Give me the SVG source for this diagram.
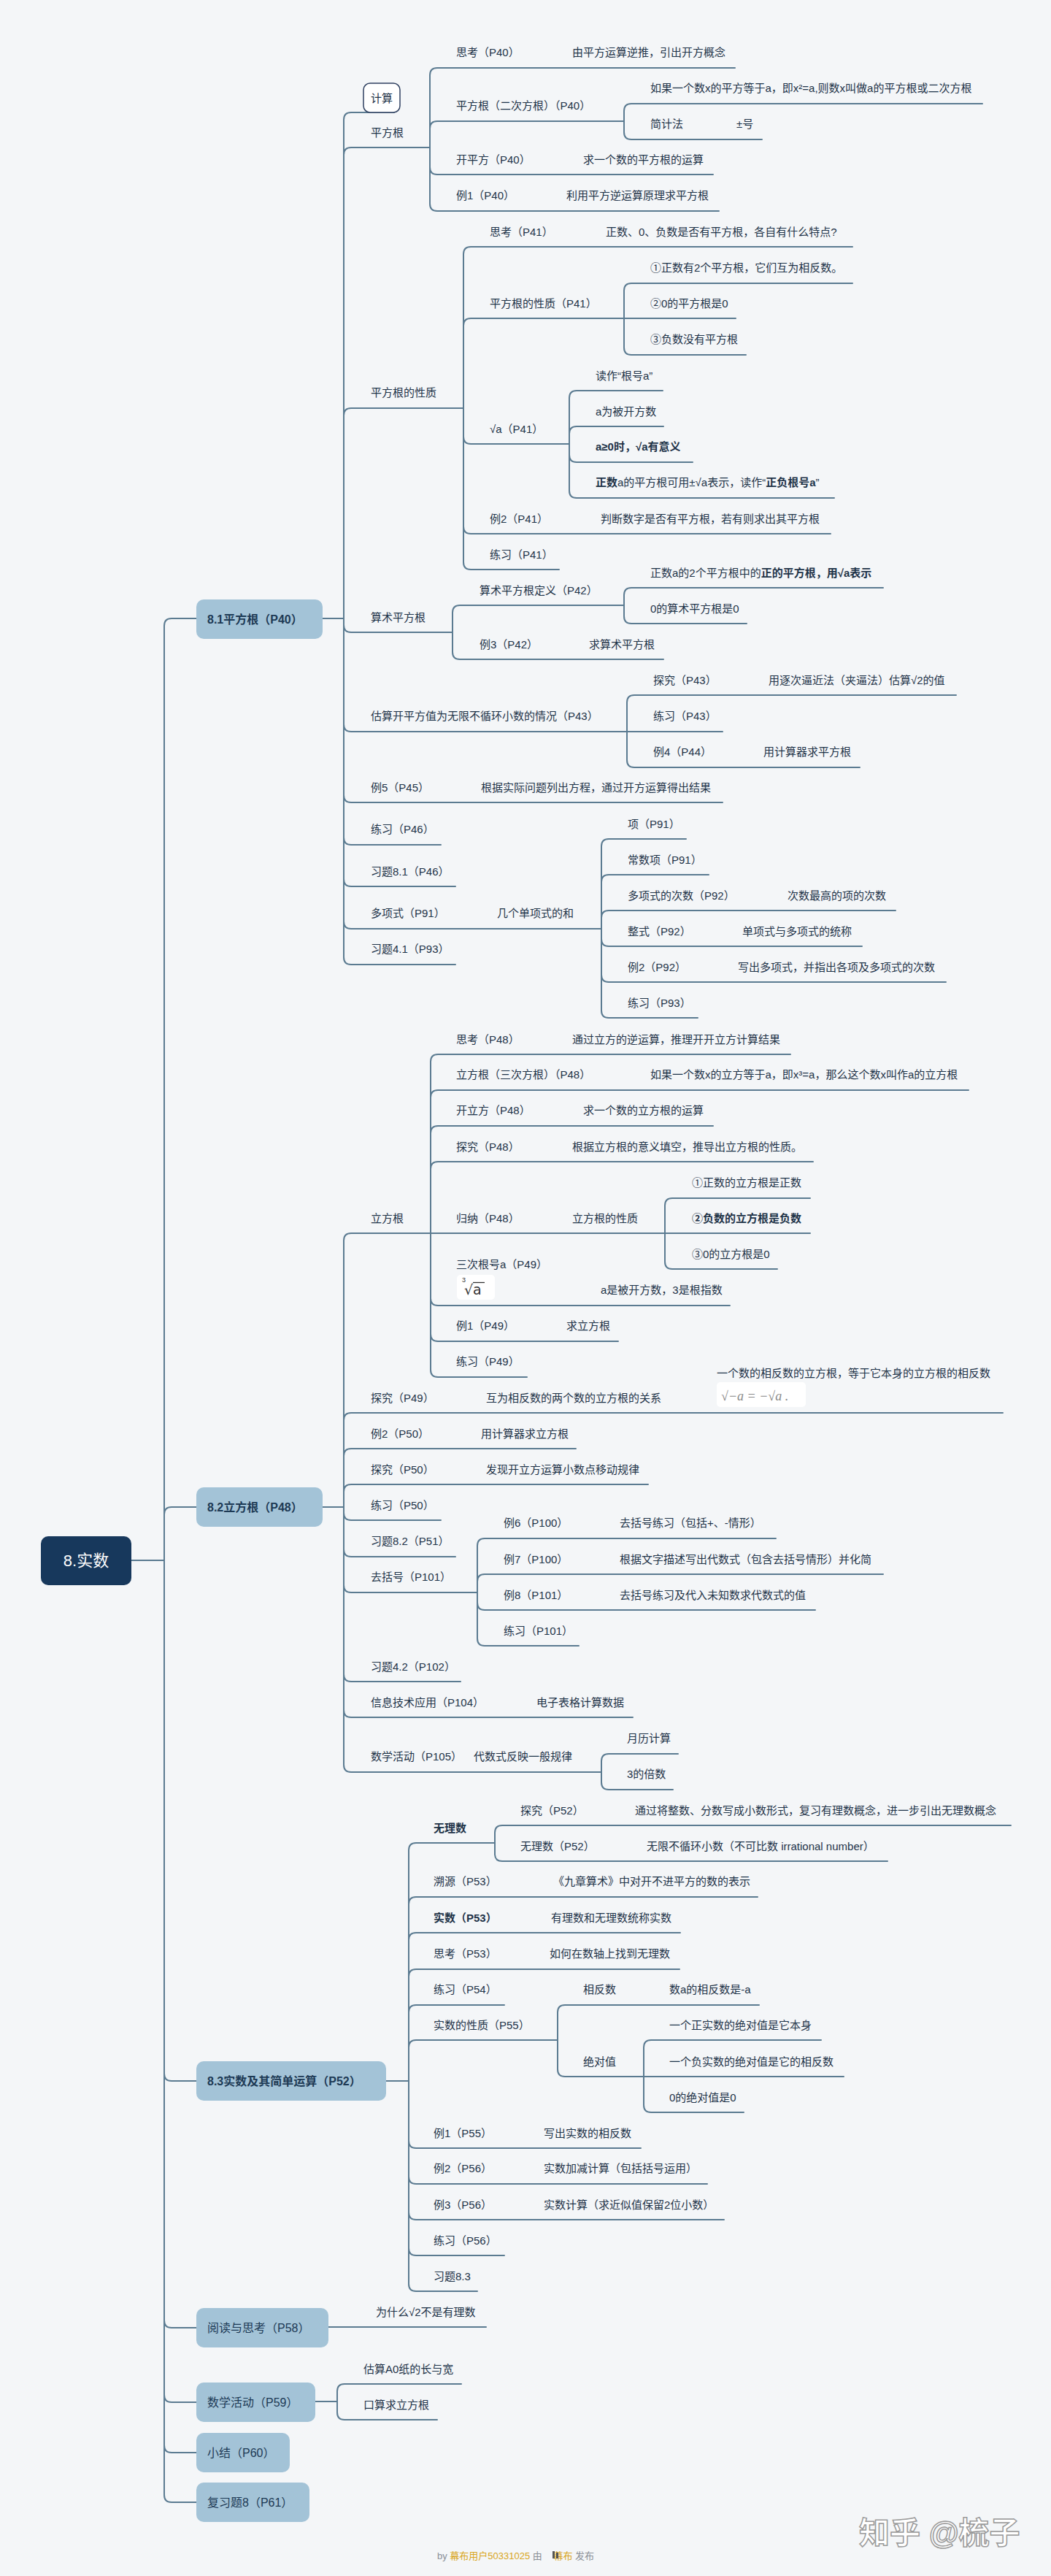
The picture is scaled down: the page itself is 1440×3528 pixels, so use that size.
<svg xmlns="http://www.w3.org/2000/svg" width="1440" height="3528" viewBox="0 0 1440 3528">
<defs>
<style>
.t{font-family:"Liberation Sans","Noto Sans CJK SC",sans-serif;font-size:15px;fill:#1e3348}
.b{font-weight:bold}
.ln{fill:none;stroke:#5b7b91;stroke-width:2;stroke-linecap:round}
.l1{fill:#a3c3d7}
.l1t{font-family:"Liberation Sans","Noto Sans CJK SC",sans-serif;font-size:16px;fill:#1d3a55}
.root{fill:#17385c}
.rt{font-family:"Liberation Sans","Noto Sans CJK SC",sans-serif;font-size:22px;fill:#ffffff}
.img{fill:#ffffff}
.ft{font-family:"Liberation Sans","Noto Sans CJK SC",sans-serif;font-size:13px;fill:#8a8f96}
.gold{fill:#d9a520}
</style>
</defs>
<rect x="0" y="0" width="1440" height="3528" fill="#f4f6f8"/>

<g id="connectors">
<path class="ln" d="M180 2137H225"/>
<path class="ln" d="M225 2137V857Q225 847 235 847H269"/>
<path class="ln" d="M225 2137V2074Q225 2064 235 2064H269"/>
<path class="ln" d="M225 2137V2840Q225 2850 235 2850H269"/>
<path class="ln" d="M225 2137V3178Q225 3188 235 3188H269"/>
<path class="ln" d="M225 2137V3280Q225 3290 235 3290H269"/>
<path class="ln" d="M225 2137V3349Q225 3359 235 3359H269"/>
<path class="ln" d="M225 2137V3417Q225 3427 235 3427H269"/>

<path class="ln" d="M442 847H471"/>
<path class="ln" d="M471 847V164Q471 154 481 154H540"/>
<path class="ln" d="M471 847V212Q471 202 481 202H589"/>
<path class="ln" d="M471 847V569Q471 559 481 559H635"/>
<path class="ln" d="M471 847V856Q471 866 481 866H620"/>
<path class="ln" d="M471 847V992Q471 1002 481 1002H859"/>
<path class="ln" d="M471 847V1089Q471 1099 481 1099H990"/>
<path class="ln" d="M471 847V1147Q471 1157 481 1157H604"/>
<path class="ln" d="M471 847V1204Q471 1214 481 1214H624"/>
<path class="ln" d="M471 847V1262Q471 1272 481 1272H824"/>
<path class="ln" d="M471 847V1311Q471 1321 481 1321H624"/>

<path class="ln" d="M589 202V103Q589 93 599 93H1007"/>
<path class="ln" d="M589 202V176Q589 166 599 166H855"/>
<path class="ln" d="M589 202V229Q589 239 599 239H977"/>
<path class="ln" d="M589 202V279Q589 289 599 289H985"/>
<path class="ln" d="M855 166V152Q855 142 865 142H1346"/>
<path class="ln" d="M855 166V181Q855 191 865 191H1044"/>

<path class="ln" d="M635 559V348Q635 338 645 338H1168"/>
<path class="ln" d="M635 559V446Q635 436 645 436H855"/>
<path class="ln" d="M635 559V598Q635 608 645 608H780"/>
<path class="ln" d="M635 559V721Q635 731 645 731H1138"/>
<path class="ln" d="M635 559V770Q635 780 645 780H766"/>
<path class="ln" d="M855 436V398Q855 388 865 388H1168"/>
<path class="ln" d="M855 436H1008"/>
<path class="ln" d="M855 436V476Q855 486 865 486H1022"/>
<path class="ln" d="M780 608V545Q780 535 790 535H908"/>
<path class="ln" d="M780 608V594Q780 584 790 584H909"/>
<path class="ln" d="M780 608V623Q780 633 790 633H949"/>
<path class="ln" d="M780 608V672Q780 682 790 682H1143"/>

<path class="ln" d="M620 866V839Q620 829 630 829H855"/>
<path class="ln" d="M620 866V893Q620 903 630 903H909"/>
<path class="ln" d="M855 829V815Q855 805 865 805H1210"/>
<path class="ln" d="M855 829V844Q855 854 865 854H1023"/>

<path class="ln" d="M859 1002V962Q859 952 869 952H1310"/>
<path class="ln" d="M859 1002H990"/>
<path class="ln" d="M859 1002V1041Q859 1051 869 1051H1178"/>

<path class="ln" d="M824 1272V1159Q824 1149 834 1149H940"/>
<path class="ln" d="M824 1272V1208Q824 1198 834 1198H971"/>
<path class="ln" d="M824 1272V1257Q824 1247 834 1247H1227"/>
<path class="ln" d="M824 1272V1286Q824 1296 834 1296H1181"/>
<path class="ln" d="M824 1272V1335Q824 1345 834 1345H1296"/>
<path class="ln" d="M824 1272V1384Q824 1394 834 1394H956"/>

<path class="ln" d="M442 2064H471"/>
<path class="ln" d="M471 2064V1699Q471 1689 481 1689H590"/>
<path class="ln" d="M471 2064V1945Q471 1935 481 1935H1374"/>
<path class="ln" d="M471 2064V1994Q471 1984 481 1984H789"/>
<path class="ln" d="M471 2064V2043Q471 2033 481 2033H888"/>
<path class="ln" d="M471 2064V2072Q471 2082 481 2082H604"/>
<path class="ln" d="M471 2064V2122Q471 2132 481 2132H624"/>
<path class="ln" d="M471 2064V2171Q471 2181 481 2181H654"/>
<path class="ln" d="M471 2064V2293Q471 2303 481 2303H631"/>
<path class="ln" d="M471 2064V2342Q471 2352 481 2352H867"/>
<path class="ln" d="M471 2064V2417Q471 2427 481 2427H824"/>

<path class="ln" d="M590 1689V1454Q590 1444 600 1444H1083"/>
<path class="ln" d="M590 1689V1503Q590 1493 600 1493H1327"/>
<path class="ln" d="M590 1689V1552Q590 1542 600 1542H977"/>
<path class="ln" d="M590 1689V1601Q590 1591 600 1591H1114"/>
<path class="ln" d="M590 1689H911"/>
<path class="ln" d="M590 1689V1778Q590 1788 600 1788H1000"/>
<path class="ln" d="M590 1689V1827Q590 1837 600 1837H847"/>
<path class="ln" d="M590 1689V1876Q590 1886 600 1886H722"/>
<path class="ln" d="M911 1689V1651Q911 1641 921 1641H1110"/>
<path class="ln" d="M911 1689H1110"/>
<path class="ln" d="M911 1689V1728Q911 1738 921 1738H1065"/>

<path class="ln" d="M654 2181V2117Q654 2107 664 2107H1063"/>
<path class="ln" d="M654 2181V2166Q654 2156 664 2156H1210"/>
<path class="ln" d="M654 2181V2195Q654 2205 664 2205H1117"/>
<path class="ln" d="M654 2181V2244Q654 2254 664 2254H793"/>
<path class="ln" d="M824 2427V2412Q824 2402 834 2402H929"/>
<path class="ln" d="M824 2427V2441Q824 2451 834 2451H922"/>

<path class="ln" d="M529 2850H560"/>
<path class="ln" d="M560 2850V2534Q560 2524 570 2524H678"/>
<path class="ln" d="M560 2850V2608Q560 2598 570 2598H1038"/>
<path class="ln" d="M560 2850V2657Q560 2647 570 2647H932"/>
<path class="ln" d="M560 2850V2707Q560 2697 570 2697H931"/>
<path class="ln" d="M560 2850V2756Q560 2746 570 2746H691"/>
<path class="ln" d="M560 2850V2804Q560 2794 570 2794H764"/>
<path class="ln" d="M560 2850V2932Q560 2942 570 2942H878"/>
<path class="ln" d="M560 2850V2981Q560 2991 570 2991H969"/>
<path class="ln" d="M560 2850V3030Q560 3040 570 3040H992"/>
<path class="ln" d="M560 2850V3079Q560 3089 570 3089H691"/>
<path class="ln" d="M560 2850V3128Q560 3138 570 3138H654"/>
<path class="ln" d="M678 2524V2510Q678 2500 688 2500H1385"/>
<path class="ln" d="M678 2524V2539Q678 2549 688 2549H1216"/>
<path class="ln" d="M764 2794V2756Q764 2746 774 2746H1040"/>
<path class="ln" d="M764 2794V2834Q764 2844 774 2844H882"/>
<path class="ln" d="M882 2844V2804Q882 2794 892 2794H1125"/>
<path class="ln" d="M882 2844H1156"/>
<path class="ln" d="M882 2844V2883Q882 2893 892 2893H1019"/>

<path class="ln" d="M450 3187H666"/>
<path class="ln" d="M432 3289H462"/>
<path class="ln" d="M462 3289V3275Q462 3265 472 3265H632"/>
<path class="ln" d="M462 3289V3304Q462 3314 472 3314H599"/>
</g>

<g id="root">
<rect class="root" x="56" y="2104" width="124" height="67" rx="10"/>
<text class="rt" x="118" y="2145" text-anchor="middle">8.实数</text>
</g>

<g id="n81">
<rect class="l1" x="269" y="821" width="173" height="54" rx="10"/>
<text class="l1t b" x="284" y="854">8.1平方根（P40）</text>
</g>
<g id="n82">
<rect class="l1" x="269" y="2037" width="173" height="54" rx="10"/>
<text class="l1t b" x="284" y="2070">8.2立方根（P48）</text>
</g>
<g id="n83">
<rect class="l1" x="269" y="2823" width="260" height="54" rx="10"/>
<text class="l1t b" x="284" y="2856">8.3实数及其简单运算（P52）</text>
</g>
<g id="n-read">
<rect class="l1" x="269" y="3161" width="181" height="54" rx="10"/>
<text class="l1t" x="284" y="3194">阅读与思考（P58）</text>
</g>
<g id="n-act">
<rect class="l1" x="269" y="3263" width="163" height="54" rx="10"/>
<text class="l1t" x="284" y="3296">数学活动（P59）</text>
</g>
<g id="n-sum">
<rect class="l1" x="269" y="3332" width="128" height="54" rx="10"/>
<text class="l1t" x="284" y="3365">小结（P60）</text>
</g>
<g id="n-rev">
<rect class="l1" x="269" y="3400" width="155" height="54" rx="10"/>
<text class="l1t" x="284" y="3433">复习题8（P61）</text>
</g>

<g id="s81">
<g id="calc"><rect x="498" y="114" width="50" height="40" rx="9" fill="#ffffff" stroke="#2f4060" stroke-width="1.5"/><text class="t" x="523" y="139.5" text-anchor="middle">计算</text></g>
<g id="pfg"><text class="t" x="508" y="186.5">平方根</text></g>
<g id="sk40"><text class="t" x="625" y="77">思考（P40）</text><text class="t" x="784" y="77">由平方运算逆推，引出开方概念</text></g>
<g id="pfg2"><text class="t" x="625" y="150">平方根（二次方根）（P40）</text></g>
<g id="def1"><text class="t" x="891" y="126">如果一个数x的平方等于a，即x²=a,则数x叫做a的平方根或二次方根</text></g>
<g id="jjf"><text class="t" x="891" y="175">简计法</text><text class="t" x="1009" y="175">±号</text></g>
<g id="kpf"><text class="t" x="625" y="224">开平方（P40）</text><text class="t" x="799" y="224">求一个数的平方根的运算</text></g>
<g id="l140"><text class="t" x="625" y="273">例1（P40）</text><text class="t" x="776" y="273">利用平方逆运算原理求平方根</text></g>

<g id="pfgxz"><text class="t" x="508" y="543">平方根的性质</text></g>
<g id="sk41"><text class="t" x="671" y="323">思考（P41）</text><text class="t" x="830" y="323">正数、0、负数是否有平方根，各自有什么特点?</text></g>
<g id="xz41"><text class="t" x="671" y="420.5">平方根的性质（P41）</text></g>
<g id="xz1"><text class="t" x="891" y="372">①正数有2个平方根，它们互为相反数。</text></g>
<g id="xz2"><text class="t" x="891" y="420.5">②0的平方根是0</text></g>
<g id="xz3"><text class="t" x="891" y="470">③负数没有平方根</text></g>
<g id="sqa"><text class="t" x="671" y="593">√a（P41）</text></g>
<g id="dz"><text class="t" x="816" y="519.5">读作“根号a”</text></g>
<g id="bkf"><text class="t" x="816" y="568.5">a为被开方数</text></g>
<g id="yyy"><text class="t b" x="816" y="617">a≥0时，√a有意义</text></g>
<g id="zfgh"><text class="t" x="816" y="666"><tspan class="b">正数</tspan>a的平方根可用±√a表示，读作“<tspan class="b">正负根号a</tspan>”</text></g>
<g id="l241"><text class="t" x="671" y="715.5">例2（P41）</text><text class="t" x="823" y="715.5">判断数字是否有平方根，若有则求出其平方根</text></g>
<g id="lx41"><text class="t" x="671" y="764.5">练习（P41）</text></g>

<g id="sspfg"><text class="t" x="508" y="850.5">算术平方根</text></g>
<g id="ssdy"><text class="t" x="657" y="814">算术平方根定义（P42）</text></g>
<g id="ssdy1"><text class="t" x="891" y="789.5">正数a的2个平方根中的<tspan class="b">正的平方根，用√a表示</tspan></text></g>
<g id="ssdy2"><text class="t" x="891" y="839">0的算术平方根是0</text></g>
<g id="l342"><text class="t" x="657" y="888">例3（P42）</text><text class="t" x="807" y="888">求算术平方根</text></g>

<g id="gs"><text class="t" x="508" y="986">估算开平方值为无限不循环小数的情况（P43）</text></g>
<g id="tj43"><text class="t" x="895" y="936.5">探究（P43）</text><text class="t" x="1053" y="936.5">用逐次逼近法（夹逼法）估算√2的值</text></g>
<g id="lx43"><text class="t" x="895" y="986">练习（P43）</text></g>
<g id="l444"><text class="t" x="895" y="1035">例4（P44）</text><text class="t" x="1046" y="1035">用计算器求平方根</text></g>
<g id="l545"><text class="t" x="508" y="1084">例5（P45）</text><text class="t" x="659" y="1084">根据实际问题列出方程，通过开方运算得出结果</text></g>
<g id="lx46"><text class="t" x="508" y="1141">练习（P46）</text></g>
<g id="xt81"><text class="t" x="508" y="1198.5">习题8.1（P46）</text></g>
<g id="dxs"><text class="t" x="508" y="1256">多项式（P91）</text><text class="t" x="681" y="1256">几个单项式的和</text></g>
<g id="x91"><text class="t" x="860" y="1133.5">项（P91）</text></g>
<g id="csx"><text class="t" x="860" y="1183">常数项（P91）</text></g>
<g id="dxscs"><text class="t" x="860" y="1232">多项式的次数（P92）</text><text class="t" x="1079" y="1232">次数最高的项的次数</text></g>
<g id="zs"><text class="t" x="860" y="1280.5">整式（P92）</text><text class="t" x="1017" y="1280.5">单项式与多项式的统称</text></g>
<g id="l292"><text class="t" x="860" y="1329.5">例2（P92）</text><text class="t" x="1011" y="1329.5">写出多项式，并指出各项及多项式的次数</text></g>
<g id="lx93"><text class="t" x="860" y="1379">练习（P93）</text></g>
<g id="xt41"><text class="t" x="508" y="1305">习题4.1（P93）</text></g>
</g>

<g id="s82">
<g id="lfg"><text class="t" x="508" y="1674">立方根</text></g>
<g id="sk48"><text class="t" x="625" y="1428.5">思考（P48）</text><text class="t" x="784" y="1428.5">通过立方的逆运算，推理开开立方计算结果</text></g>
<g id="lfg3"><text class="t" x="625" y="1477">立方根（三次方根）（P48）</text><text class="t" x="891" y="1477">如果一个数x的立方等于a，即x³=a，那么这个数x叫作a的立方根</text></g>
<g id="klf"><text class="t" x="625" y="1526">开立方（P48）</text><text class="t" x="799" y="1526">求一个数的立方根的运算</text></g>
<g id="tj48"><text class="t" x="625" y="1575.5">探究（P48）</text><text class="t" x="784" y="1575.5">根据立方根的意义填空，推导出立方根的性质。</text></g>
<g id="gn48"><text class="t" x="625" y="1674">归纳（P48）</text><text class="t" x="784" y="1674">立方根的性质</text></g>
<g id="lx1"><text class="t" x="948" y="1625">①正数的立方根是正数</text></g>
<g id="lx2"><text class="t b" x="948" y="1674">②负数的立方根是负数</text></g>
<g id="lx3"><text class="t" x="948" y="1723">③0的立方根是0</text></g>
<g id="scgh"><text class="t" x="625" y="1737">三次根号a（P49）</text>
<rect class="img" x="626" y="1746" width="52" height="34" rx="5"/>
<text x="633" y="1756" font-family="Liberation Sans,sans-serif" font-size="9" fill="#333">3</text>
<text x="636" y="1773" font-family="DejaVu Sans,sans-serif" font-size="19" fill="#333">√a</text>
<path d="M648 1756.5H664" stroke="#333" stroke-width="1.3"/>
<text class="t" x="823" y="1772">a是被开方数，3是根指数</text></g>
<g id="l149"><text class="t" x="625" y="1821">例1（P49）</text><text class="t" x="776" y="1821">求立方根</text></g>
<g id="lx49"><text class="t" x="625" y="1870">练习（P49）</text></g>
<g id="tj49"><text class="t" x="508" y="1919.5">探究（P49）</text><text class="t" x="666" y="1919.5">互为相反数的两个数的立方根的关系</text>
<text class="t" x="982" y="1885.5">一个数的相反数的立方根，等于它本身的立方根的相反数</text>
<rect class="img" x="982" y="1893" width="122" height="34" rx="5"/>
<text x="988" y="1918" font-family="Liberation Serif,serif" font-style="italic" font-size="18" fill="#8a8a8a">√−a = −√a .</text></g>
<g id="l250"><text class="t" x="508" y="1968.5">例2（P50）</text><text class="t" x="659" y="1968.5">用计算器求立方根</text></g>
<g id="tj50"><text class="t" x="508" y="2018">探究（P50）</text><text class="t" x="666" y="2018">发现开立方运算小数点移动规律</text></g>
<g id="lx50"><text class="t" x="508" y="2067">练习（P50）</text></g>
<g id="xt82"><text class="t" x="508" y="2116">习题8.2（P51）</text></g>
<g id="qkh"><text class="t" x="508" y="2165">去括号（P101）</text></g>
<g id="l6"><text class="t" x="690" y="2091">例6（P100）</text><text class="t" x="849" y="2091">去括号练习（包括+、-情形）</text></g>
<g id="l7"><text class="t" x="690" y="2140.5">例7（P100）</text><text class="t" x="849" y="2140.5">根据文字描述写出代数式（包含去括号情形）并化简</text></g>
<g id="l8"><text class="t" x="690" y="2189.5">例8（P101）</text><text class="t" x="849" y="2189.5">去括号练习及代入未知数求代数式的值</text></g>
<g id="lx101"><text class="t" x="690" y="2238.5">练习（P101）</text></g>
<g id="xt42"><text class="t" x="508" y="2288">习题4.2（P102）</text></g>
<g id="xxjs"><text class="t" x="508" y="2337">信息技术应用（P104）</text><text class="t" x="735" y="2337">电子表格计算数据</text></g>
<g id="sxhd105"><text class="t" x="508" y="2411">数学活动（P105）</text><text class="t" x="649" y="2411">代数式反映一般规律</text></g>
<g id="ylj"><text class="t" x="859" y="2386">月历计算</text></g>
<g id="bs3"><text class="t" x="859" y="2435">3的倍数</text></g>
</g>

<g id="s83">
<g id="wls"><text class="t b" x="594" y="2508.5">无理数</text></g>
<g id="tj52"><text class="t" x="713" y="2484.5">探究（P52）</text><text class="t" x="870" y="2484.5">通过将整数、分数写成小数形式，复习有理数概念，进一步引出无理数概念</text></g>
<g id="wls52"><text class="t" x="713" y="2534">无理数（P52）</text><text class="t" x="886" y="2534">无限不循环小数（不可比数 irrational number）</text></g>
<g id="sy53"><text class="t" x="594" y="2582">溯源（P53）</text><text class="t" x="758" y="2582">《九章算术》中对开不进平方的数的表示</text></g>
<g id="ss53"><text class="t b" x="594" y="2632">实数（P53）</text><text class="t" x="755" y="2632">有理数和无理数统称实数</text></g>
<g id="sk53"><text class="t" x="594" y="2681">思考（P53）</text><text class="t" x="753" y="2681">如何在数轴上找到无理数</text></g>
<g id="lx54"><text class="t" x="594" y="2730">练习（P54）</text></g>
<g id="ssxz"><text class="t" x="594" y="2779">实数的性质（P55）</text></g>
<g id="xfs"><text class="t" x="799" y="2730">相反数</text><text class="t" x="917" y="2730">数a的相反数是-a</text></g>
<g id="jdz"><text class="t" x="799" y="2828.5">绝对值</text></g>
<g id="jdz1"><text class="t" x="917" y="2779">一个正实数的绝对值是它本身</text></g>
<g id="jdz2"><text class="t" x="917" y="2828.5">一个负实数的绝对值是它的相反数</text></g>
<g id="jdz3"><text class="t" x="917" y="2878">0的绝对值是0</text></g>
<g id="l155"><text class="t" x="594" y="2926.5">例1（P55）</text><text class="t" x="745" y="2926.5">写出实数的相反数</text></g>
<g id="l256"><text class="t" x="594" y="2975">例2（P56）</text><text class="t" x="745" y="2975">实数加减计算（包括括号运用）</text></g>
<g id="l356"><text class="t" x="594" y="3024.5">例3（P56）</text><text class="t" x="745" y="3024.5">实数计算（求近似值保留2位小数）</text></g>
<g id="lx56"><text class="t" x="594" y="3074">练习（P56）</text></g>
<g id="xt83"><text class="t" x="594" y="3123">习题8.3</text></g>
</g>

<g id="s-other">
<g id="why"><text class="t" x="515" y="3172">为什么√2不是有理数</text></g>
<g id="a0"><text class="t" x="498" y="3250">估算A0纸的长与宽</text></g>
<g id="ks"><text class="t" x="498" y="3299">口算求立方根</text></g>
</g>

<g id="footer">
<text class="ft" x="599" y="3505">by <tspan class="gold">幕布用户50331025</tspan> 由 <tspan dx="12" class="gold">幕布</tspan> 发布</text>
<rect x="757" y="3494" width="3" height="10" fill="#555"/>
<rect x="762" y="3496" width="3" height="8" fill="#555"/>
</g>
<g id="watermark">
<text x="1177" y="3484" font-family="Liberation Sans,'Noto Sans CJK SC',sans-serif" font-size="42" font-weight="bold" fill="#ffffff" stroke="#9a9a9a" stroke-width="1.5">知乎 @梳子</text>
</g>
</svg>
